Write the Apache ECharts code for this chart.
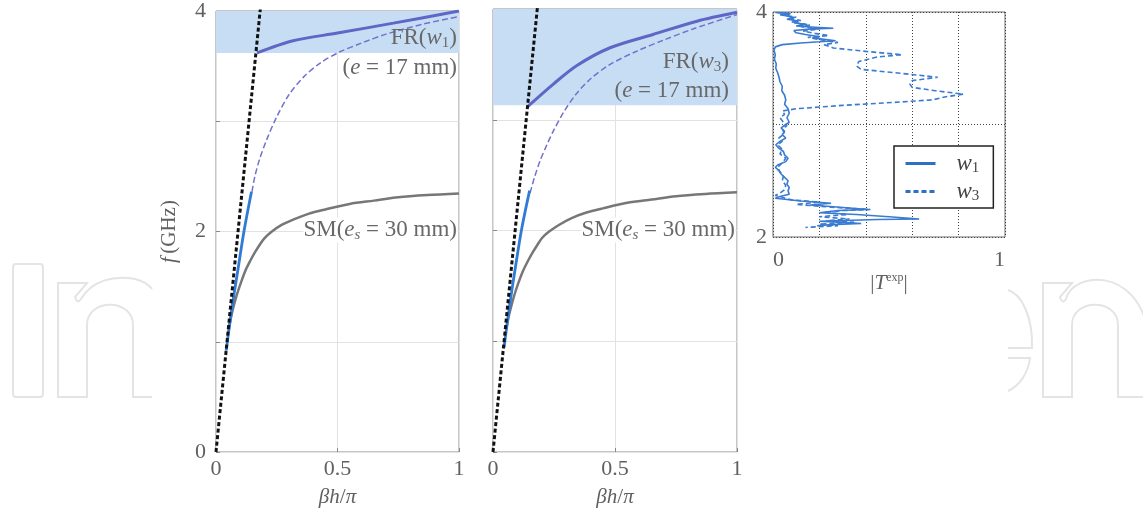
<!DOCTYPE html>
<html>
<head>
<meta charset="utf-8">
<script src="https://cdn.jsdelivr.net/npm/echarts@6/dist/echarts.min.js"></script>
<style>
  html, body { margin: 0; padding: 0; background: #fff; }
  #main { width: 1143px; height: 519px; }
</style>
</head>
<body>
<div id="main"></div>
<script>
// ---- data ----
// x = beta*h/pi, y = f (GHz)
var xTicks = [0, 0.5, 1];
var fTicks = [0, 2, 4];

// light line (black dashed), same in both panels
var lightLine = [[0, 0], [0.186, 4.1]];

// soft mode SM(e_s = 30 mm), grey
var smCurve1 = [[0.052, 1.1], [0.06, 1.2], [0.07, 1.3], [0.085, 1.42], [0.1, 1.52], [0.12, 1.64], [0.14, 1.73],
  [0.16, 1.81], [0.18, 1.88], [0.2, 1.94], [0.23, 2.0], [0.27, 2.06], [0.32, 2.11], [0.38, 2.16], [0.45, 2.2],
  [0.55, 2.25], [0.65, 2.28], [0.75, 2.31], [0.87, 2.33], [1, 2.345]];
var smCurve2 = [[0.055, 1.12], [0.063, 1.21], [0.073, 1.3], [0.088, 1.42], [0.103, 1.52], [0.122, 1.63], [0.142, 1.72],
  [0.162, 1.8], [0.182, 1.87], [0.2, 1.93], [0.23, 1.99], [0.27, 2.05], [0.32, 2.11], [0.38, 2.16], [0.45, 2.2],
  [0.55, 2.25], [0.65, 2.28], [0.75, 2.31], [0.87, 2.33], [1, 2.345]];

// measured low branch (blue solid)
var lowBranch1 = [[0.042, 0.92], [0.065, 1.3], [0.09, 1.65], [0.115, 2.0], [0.146, 2.36]];
var lowBranch2 = [[0.045, 0.94], [0.068, 1.32], [0.092, 1.67], [0.118, 2.02], [0.15, 2.36]];

// upper continuation (purple dashed)
var upperDashed1 = [[0.148, 2.36], [0.16, 2.5], [0.18, 2.66], [0.21, 2.84], [0.25, 3.04], [0.3, 3.24], [0.36, 3.4],
  [0.43, 3.53], [0.51, 3.63], [0.6, 3.71], [0.7, 3.79], [0.85, 3.88], [1, 3.95]];
var upperDashed2 = [[0.152, 2.34], [0.17, 2.48], [0.193, 2.63], [0.22, 2.77], [0.25, 2.91], [0.29, 3.07],
  [0.34, 3.23], [0.4, 3.37], [0.48, 3.5], [0.59, 3.62], [0.7, 3.72], [0.82, 3.82], [1, 3.95]];

// FR branch (purple solid)
var frBranch1 = [[0.169, 3.62], [0.317, 3.73], [0.5, 3.8], [0.73, 3.89], [1, 4.0]];
var frBranch2 = [[0.143, 3.12], [0.246, 3.32], [0.344, 3.49], [0.48, 3.65], [0.656, 3.77], [0.836, 3.89], [1, 3.97]];

// shaded FR bands [fmin, fmax]
var frBand1 = [3.62, 4];
var frBand2 = [3.13, 4];

// right panel: |T^exp| vs f
var tTicks = [0, 1];
var tfTicks = [2, 4];
var w1 = [[0.01, 3.995], [0.05, 3.99], [0.07, 3.985], [0.03, 3.975], [0.06, 3.965], [0.09, 3.95], [0.06, 3.935],
  [0.11, 3.92], [0.09, 3.905], [0.14, 3.89], [0.1, 3.875], [0.18, 3.865], [0.26, 3.855], [0.17, 3.85], [0.09, 3.835],
  [0.1, 3.815], [0.14, 3.8], [0.2, 3.78], [0.17, 3.77], [0.27, 3.745], [0.2, 3.735], [0.12, 3.725], [0.04, 3.71],
  [0.01, 3.69], [0.004, 3.66], [0.01, 3.62], [0.006, 3.58], [0.014, 3.54], [0.012, 3.5], [0.02, 3.46], [0.026, 3.42],
  [0.03, 3.38], [0.04, 3.34], [0.038, 3.3], [0.05, 3.26], [0.055, 3.22], [0.05, 3.18], [0.065, 3.14], [0.07, 3.1],
  [0.06, 3.06], [0.07, 3.02], [0.055, 3.0], [0.035, 2.97], [0.05, 2.94], [0.04, 2.91], [0.055, 2.88], [0.03, 2.85],
  [0.012, 2.82], [0.025, 2.79], [0.045, 2.76], [0.05, 2.73], [0.065, 2.7], [0.055, 2.67], [0.02, 2.64], [0.01, 2.62],
  [0.025, 2.59], [0.035, 2.56], [0.05, 2.53], [0.065, 2.5], [0.06, 2.47], [0.07, 2.44], [0.065, 2.41], [0.07, 2.38],
  [0.03, 2.36], [0.01, 2.345], [0.12, 2.32], [0.25, 2.3], [0.16, 2.285], [0.22, 2.275], [0.41, 2.245], [0.28, 2.235],
  [0.2, 2.215], [0.36, 2.2], [0.5, 2.18], [0.63, 2.16], [0.45, 2.155], [0.2, 2.14], [0.3, 2.13], [0.38, 2.12],
  [0.25, 2.11], [0.19, 2.1]];
var w3 = [[0.02, 3.995], [0.08, 3.985], [0.05, 3.97], [0.1, 3.955], [0.07, 3.94], [0.12, 3.925], [0.08, 3.91],
  [0.16, 3.885], [0.12, 3.87], [0.2, 3.85], [0.13, 3.83], [0.18, 3.81], [0.24, 3.79], [0.15, 3.775], [0.2, 3.755],
  [0.28, 3.73], [0.22, 3.71], [0.26, 3.68], [0.4, 3.65], [0.556, 3.62], [0.45, 3.6], [0.37, 3.56], [0.36, 3.52],
  [0.38, 3.49], [0.55, 3.455], [0.71, 3.42], [0.6, 3.39], [0.59, 3.36], [0.6, 3.33], [0.7, 3.3], [0.82, 3.27],
  [0.74, 3.245], [0.69, 3.22], [0.55, 3.2], [0.3, 3.17], [0.1, 3.14], [0.04, 3.12], [0.05, 3.09], [0.03, 3.06],
  [0.045, 3.02], [0.06, 2.99], [0.04, 2.96], [0.05, 2.92], [0.025, 2.88], [0.04, 2.85], [0.02, 2.82], [0.04, 2.78],
  [0.03, 2.74], [0.055, 2.7], [0.04, 2.66], [0.02, 2.62], [0.03, 2.58], [0.045, 2.54], [0.04, 2.5], [0.055, 2.46],
  [0.05, 2.42], [0.03, 2.39], [0.01, 2.37], [0.08, 2.33], [0.2, 2.31], [0.1, 2.29], [0.25, 2.265], [0.42, 2.245],
  [0.3, 2.235], [0.22, 2.22], [0.32, 2.2], [0.2, 2.18], [0.33, 2.16], [0.23, 2.145], [0.35, 2.13], [0.2, 2.115],
  [0.28, 2.1], [0.14, 2.085]];

// ---- styling ----
var serif = "'Liberation Serif', 'DejaVu Serif', serif";
var txt = '#606060';
// rich text pieces; "fill" is what raw graphic text reads, "color" what axis names read
function mathRich(size, color) {
  var sub = Math.round(size * 0.66);
  return {
    r: { fontFamily: serif, fontSize: size, color: color, fill: color },
    i: { fontFamily: serif, fontSize: size, color: color, fill: color, fontStyle: 'italic' },
    sub: { fontFamily: serif, fontSize: sub, color: color, fill: color, padding: [Math.round(size * 0.45), 0, 0, 0] },
    isub: { fontFamily: serif, fontSize: sub, color: color, fill: color, fontStyle: 'italic', padding: [Math.round(size * 0.45), 0, 0, 0] },
    sup: { fontFamily: serif, fontSize: Math.round(size * 0.58), color: color, fill: color, padding: [0, 0, Math.round(size * 0.5), 0] }
  };
}
var rich = mathRich(21, txt);
var noteRich = mathRich(23, '#686868');

function onlyTicks(list) {
  return function (v) {
    for (var k = 0; k < list.length; k++) {
      if (Math.abs(v - list[k]) < 1e-6) return String(list[k]);
    }
    return '';
  };
}

function curve(name, data, xi, color, width, dash, extra) {
  var s = {
    name: name, type: 'line', data: data, xAxisIndex: xi, yAxisIndex: xi,
    symbol: 'none', showSymbol: false, smooth: 0.3, z: 3,
    itemStyle: { color: color },
    lineStyle: { color: color, width: width, type: dash || 'solid' }
  };
  for (var k in extra || {}) s[k] = extra[k];
  return s;
}

function band(range) {
  return {
    silent: true,
    itemStyle: { color: '#c7ddf4' },
    data: [[{ yAxis: range[0] }, { yAxis: range[1] }]]
  };
}

function dispAxisX(gi) {
  return {
    type: 'value', gridIndex: gi, min: 0, max: 1, interval: 0.5,
    name: '{i|βh}{r|/}{i|π}', nameLocation: 'middle', nameGap: 35,
    nameTextStyle: { rich: rich },
    axisLine: { show: false },
    axisTick: { show: true, inside: true, length: 4, lineStyle: { color: '#888' } },
    axisLabel: { fontFamily: serif, fontSize: 22, color: txt, margin: 6, formatter: onlyTicks(xTicks) },
    splitLine: { show: true, lineStyle: { color: '#e2e2e2', width: 1 } }
  };
}

function dispAxisY(gi, showLabels) {
  return {
    type: 'value', gridIndex: gi, min: 0, max: 4, interval: 1,
    name: showLabels ? '{i|f} {r|(GHz)}' : '', nameLocation: 'middle', nameGap: 36,
    nameTextStyle: { rich: rich },
    axisLine: { show: false },
    axisTick: { show: true, inside: true, length: 4, lineStyle: { color: '#888' } },
    axisLabel: { show: showLabels, fontFamily: serif, fontSize: 22, color: txt, margin: 10, formatter: onlyTicks(fTicks) },
    splitLine: { show: true, lineStyle: { color: '#e2e2e2', width: 1 } }
  };
}

// watermark outline letters, registered as custom path shapes
var wmStyle = { fill: null, stroke: '#e4e4e4', lineWidth: 2 };
var wmPaths = {
  wmNLeft: 'M152,397 L133,397 L133,325 C133,298 87,298 87,325 L87,397 L58,397 L58,283 L87,283 L75,297 ' +
    'C77,303 79,302 81,299 C92,280 115,275 135,279 C143,281 149,285 152,289',
  wmNRight: 'M1043,397 L1043,283 L1072,283 L1060,297 C1062,303 1064,302 1066,299 C1073,272 1135,266 1148,330 ' +
    'L1148,397 L1118,397 L1118,325 C1118,298 1072,298 1072,325 L1072,397 Z',
  wmETop: 'M1008,290 C1022,294 1033,318 1032,348 L1008,348',
  wmEBottom: 'M1008,358 L1030,358 C1028,374 1019,386 1008,391'
};
var wmElements = [
  { type: 'rect', z: -10, shape: { x: 13, y: 264, width: 30, height: 133, r: 3 }, style: wmStyle }
];
try {
  Object.keys(wmPaths).forEach(function (key) {
    echarts.graphic.registerShape(key, echarts.graphic.extendPath(wmPaths[key], {}));
    wmElements.push({ type: key, z: -10, shape: {}, style: wmStyle });
  });
} catch (err) {
  console.log('watermark shapes skipped', err);
}

function note(text, x, y, opaque) {
  var st = { text: text, rich: noteRich, x: x, y: y, align: 'right', verticalAlign: 'middle', fill: '#686868' };
  if (opaque) st.backgroundColor = '#fff';
  return { type: 'text', z: 10, style: st };
}

var chart = echarts.init(document.getElementById('main'), null, { renderer: 'canvas' });

var option = {
  animation: false,
  backgroundColor: '#fff',
  grid: [
    { left: 216, top: 9, width: 243, height: 443, show: true, backgroundColor: '#fff', borderColor: '#8c8c8c', borderWidth: 1 },
    { left: 493, top: 9, width: 244, height: 443, show: true, backgroundColor: '#fff', borderColor: '#8c8c8c', borderWidth: 1 },
    { left: 773, top: 12, width: 232, height: 225, show: true, backgroundColor: '#fff', borderColor: '#6e6e6e', borderWidth: 1 }
  ],
  xAxis: [
    dispAxisX(0),
    dispAxisX(1),
    {
      type: 'value', gridIndex: 2, min: 0, max: 1, interval: 0.2,
      name: '{r||}{i|T}{sup|exp}{r||}', nameLocation: 'middle', nameGap: 14,
      nameTextStyle: { rich: rich },
      axisLine: { show: false },
      axisTick: { show: false },
      axisLabel: { fontFamily: serif, fontSize: 22, color: txt, margin: 12, formatter: onlyTicks(tTicks),
        alignMinLabel: 'left', alignMaxLabel: 'right' },
      splitLine: { show: true, lineStyle: { color: '#444', width: 1, type: [1, 2] } }
    }
  ],
  yAxis: [
    dispAxisY(0, true),
    dispAxisY(1, false),
    {
      type: 'value', gridIndex: 2, min: 2, max: 4, interval: 1,
      axisLine: { show: false },
      axisTick: { show: false },
      axisLabel: { fontFamily: serif, fontSize: 22, color: txt, margin: 6, formatter: onlyTicks(tfTicks) },
      splitLine: { show: true, lineStyle: { color: '#444', width: 1, type: [1, 2] } }
    }
  ],
  legend: {
    data: ['w1', 'w3'],
    orient: 'vertical',
    left: 894, top: 146,
    backgroundColor: '#fff',
    borderColor: '#222', borderWidth: 1.5, borderRadius: 0,
    padding: [6, 14, 4, 10],
    itemWidth: 30, itemHeight: 12, itemGap: 4,
    itemStyle: { opacity: 0 },
    lineStyle: { width: 3, color: '#2f6fc4' },
    formatter: function (n) { return '{li|w}{ls|' + n.slice(1) + '}'; },
    textStyle: {
      rich: {
        li: { fontFamily: serif, fontSize: 23, fontStyle: 'italic', color: '#444', padding: [0, 0, 0, 16] },
        ls: { fontFamily: serif, fontSize: 15, color: '#444', padding: [10, 0, 0, 0] }
      }
    }
  },
  graphic: wmElements.concat([
    note('{r|FR(}{i|w}{sub|1}{r|)}', 457, 38),
    note('{r|(}{i|e}{r| = 17 mm)}', 457, 68),
    note('{r|SM(}{i|e}{isub|s}{r| = 30 mm)}', 457, 230, true),
    note('{r|FR(}{i|w}{sub|3}{r|)}', 729, 62),
    note('{r|(}{i|e}{r| = 17 mm)}', 729, 91),
    note('{r|SM(}{i|e}{isub|s}{r| = 30 mm)}', 735, 230, true)
  ]),
  series: [
    // left panel: w1
    curve('SM1', smCurve1, 0, '#777', 2.5, 'solid', { markArea: band(frBand1) }),
    curve('dash1', upperDashed1, 0, '#7272cc', 1.5, [6, 3]),
    curve('low1', lowBranch1, 0, '#2f7bd6', 2.8),
    curve('FR1', frBranch1, 0, '#5f66c6', 3),
    curve('light1', lightLine, 0, '#111', 3, [4, 2.5], { smooth: false, z: 4 }),
    // middle panel: w3
    curve('SM2', smCurve2, 1, '#777', 2.5, 'solid', { markArea: band(frBand2) }),
    curve('dash2', upperDashed2, 1, '#7272cc', 1.5, [6, 3]),
    curve('low2', lowBranch2, 1, '#2f7bd6', 2.8),
    curve('FR2', frBranch2, 1, '#5f66c6', 3),
    curve('light2', lightLine, 1, '#111', 3, [4, 2.5], { smooth: false, z: 4 }),
    // right panel: measured transmission
    curve('w1', w1, 2, '#3a7bd2', 1.6, 'solid', { smooth: false }),
    curve('w3', w3, 2, '#3a7bd2', 1.6, [5, 3], { smooth: false })
  ]
};
chart.setOption(option);
</script>
</body>
</html>
